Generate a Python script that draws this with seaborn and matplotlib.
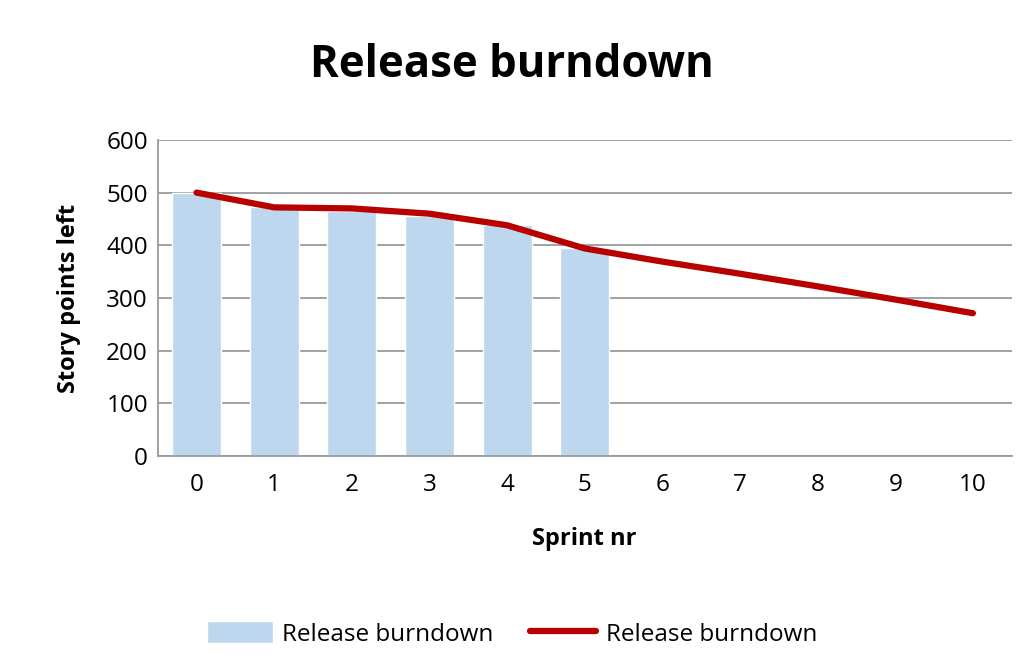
import pandas as pd
import seaborn as sns
import matplotlib.pyplot as plt

# values
sprints = [0, 1, 2, 3, 4, 5, 6, 7, 8, 9, 10]
actual_left = [500, 473, 465, 455, 438, 394]  # bars, done sprints only
trend_left = [500, 472, 470, 460, 438, 394, 369, 346, 322, 297, 271]

bar_color = '#BDD7EE'
line_color = '#B80000'

sns.set_style('white')
plt.rcParams['font.family'] = ['Open Sans', 'DejaVu Sans']
plt.rcParams['text.color'] = 'black'
plt.rcParams['axes.labelcolor'] = 'black'
plt.rcParams['xtick.color'] = 'black'
plt.rcParams['ytick.color'] = 'black'

bars = pd.DataFrame({'sprint': [str(s) for s in sprints[:len(actual_left)]],
                     'left': actual_left})
trend = pd.DataFrame({'sprint': sprints, 'left': trend_left})

fig = plt.figure(figsize=(10.24, 6.57), dpi=100)
ax = fig.add_axes([0.154, 0.306, 0.834, 0.481])

sns.barplot(data=bars, x='sprint', y='left', order=[str(s) for s in sprints],
            color=bar_color, saturation=1, width=0.63, ax=ax,
            label='Release burndown')
sns.lineplot(data=trend, x='sprint', y='left', color=line_color,
             linewidth=4.5, ax=ax, label='Release burndown')

ax.set_xlim(-0.5, 10.5)
ax.set_ylim(0, 600)
ax.set_yticks(range(0, 601, 100))
ax.yaxis.grid(True, color='#9a9a9a', linewidth=1.3)
ax.set_axisbelow(True)
for side in ['top', 'right']:
    ax.spines[side].set_visible(False)
ax.spines['left'].set_color('#9a9a9a')
ax.spines['bottom'].set_color('#9a9a9a')
ax.spines['left'].set_linewidth(1.3)
ax.spines['bottom'].set_linewidth(1.3)
ax.tick_params(axis='both', labelsize=17.5, length=0)
ax.tick_params(axis='x', pad=12)
ax.tick_params(axis='y', pad=7)

ax.set_xlabel('Sprint nr', fontsize=17, fontweight='bold', labelpad=22)
ax.set_ylabel('Story points left', fontsize=17, fontweight='bold', labelpad=18)

fig.text(0.5, 0.9, 'Release burndown', ha='center', va='center',
         fontsize=31.5, fontweight='bold')

handles, labels = ax.get_legend_handles_labels()
# bars first, then the line, as in the original
handles, labels = handles[::-1], labels[::-1]
ax.legend(handles, labels, loc='center', bbox_to_anchor=(0.5, 0.035),
          bbox_transform=fig.transFigure, ncol=2, frameon=False,
          fontsize=17.5, handlelength=2.7, handleheight=1.0,
          handletextpad=0.4, columnspacing=1.5)

fig.savefig('out.png', dpi=100)
